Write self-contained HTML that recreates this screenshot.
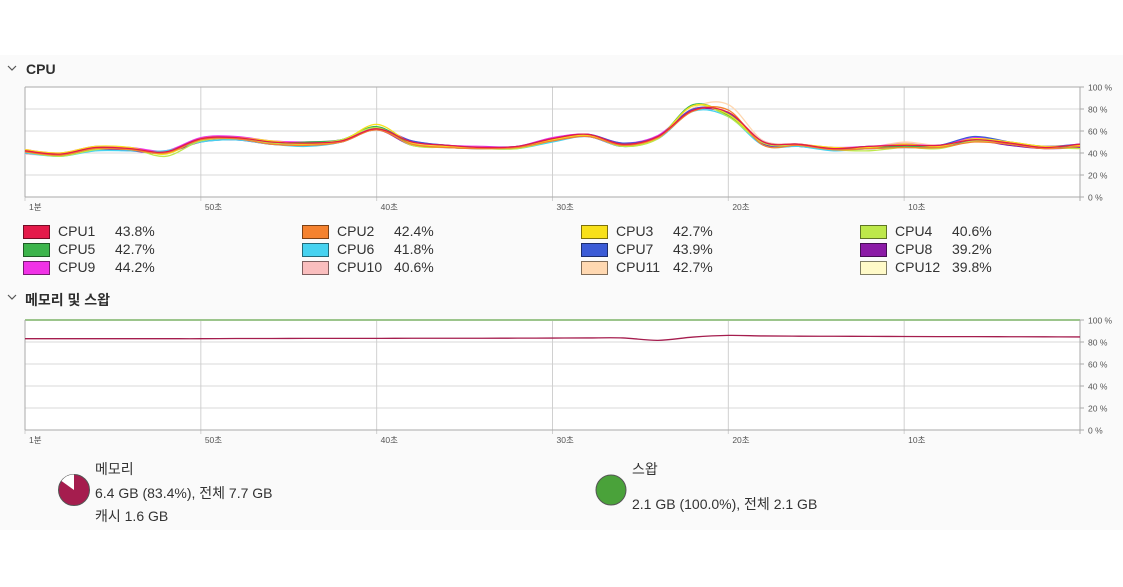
<!DOCTYPE html>
<html><head><meta charset="utf-8">
<style>
body{margin:0;width:1123px;height:587px;background:#fff;font-family:"Liberation Sans","Noto Sans CJK KR",sans-serif;color:#333;overflow:hidden;position:relative}
#panel{position:absolute;left:0;top:55px;width:1123px;height:475px;background:#fafafa}
.t{position:absolute;font-size:14px;white-space:nowrap}
.h{position:absolute;font-size:14px;font-weight:bold;color:#2e2e2e}
.sw{position:absolute;width:27px;height:14px;box-sizing:border-box;border:1px solid rgba(0,0,0,0.5)}
svg{position:absolute;left:0;top:0}
</style></head>
<body>
<div id="panel"></div>
<svg width="1123" height="587">
 <g id="cpu"></g>
 <g id="mem"></g>
 <path d="M8 66 l4 4 l4 -4" fill="none" stroke="#555" stroke-width="1.2"/>
 <path d="M8 295 l4 4 l4 -4" fill="none" stroke="#555" stroke-width="1.2"/>
 <g>
  <circle cx="74" cy="490" r="15.5" fill="#a51d4e" stroke="#555" stroke-width="1"/>
  <path d="M74 490 L74 474.5 A15.5 15.5 0 0 0 61.5 481 Z" fill="#fff"/>
 </g>
 <circle cx="611" cy="490" r="15" fill="#4aa23a" stroke="#555" stroke-width="1"/>
</svg>
<div class="h" style="left:26px;top:61px">CPU</div>
<div class="h" style="left:25px;top:290px">메모리 및 스왑</div>
<div id="legend"></div>
<div class="t" style="left:95px;top:459px">메모리</div>
<div class="t" style="left:95px;top:483px">6.4 GB (83.4%), 전체 7.7 GB</div>
<div class="t" style="left:95px;top:506px">캐시 1.6 GB</div>
<div class="t" style="left:632px;top:459px">스왑</div>
<div class="t" style="left:632px;top:494px">2.1 GB (100.0%), 전체 2.1 GB</div>
<script>
const xTicks=["1분","50초","40초","30초","20초","10초"];
const yTicks=["100 %","80 %","60 %","40 %","20 %","0 %"];
const cpuNames=["CPU1","CPU2","CPU3","CPU4","CPU5","CPU6","CPU7","CPU8","CPU9","CPU10","CPU11","CPU12"];
const cpuPct=["43.8%","42.4%","42.7%","40.6%","42.7%","41.8%","43.9%","39.2%","44.2%","40.6%","42.7%","39.8%"];
const cpuColors=["#e41a4a","#f5822f","#f8e01a","#bde84a","#3cb44b","#46d2f0","#3b5bd6","#8b1aa6","#f032e6","#fabebe","#ffd8b1","#fffac8"];
const cpu1=[42,39,45,44,41,53,54,50,49,51,62,50,47,45,46,53,57,48,55,79,77,50,48,44,46,47,47,52,49,45,48];
const cpu2=[41,38,44,43,40,52,53,48,47,50,61,48,45,44,45,51,55,47,54,78,79,47,47,43,44,45,45,50,48,44,46];
const cpu3=[43,40,46,45,39,53,54,51,48,51,66,49,46,45,45,52,56,47,54,83,75,50,48,45,45,48,46,53,50,46,47];
const cpu4=[41,37,43,44,37,51,53,49,48,52,63,47,45,44,44,51,56,46,53,83,73,49,47,43,42,45,44,51,48,45,44];
const cpu5=[42,38,44,43,40,52,54,49,50,52,64,48,45,44,45,52,56,47,54,84,74,49,47,44,45,46,46,52,48,45,47];
const cpu6=[40,37,42,42,42,50,52,48,46,50,62,48,45,44,44,50,55,46,53,78,73,47,46,42,44,45,45,53,48,45,46];
const cpu7=[42,39,45,43,41,53,54,50,49,51,62,51,47,45,46,53,57,49,55,80,76,50,48,44,46,46,47,55,50,46,48];
const cpu8=[40,38,43,42,40,50,52,48,47,50,61,47,45,44,45,51,55,46,53,79,75,48,46,43,44,45,45,51,47,44,45];
const cpu9=[43,40,46,45,42,54,55,51,50,52,63,51,47,46,46,54,57,49,56,80,76,50,48,45,46,48,47,54,50,46,48];
const cpu10=[39,38,44,43,41,51,53,49,48,51,62,49,46,44,45,52,56,48,54,80,77,51,48,44,45,49,46,52,49,45,47];
const cpu11=[41,39,45,44,41,52,53,49,49,51,62,49,46,45,45,52,56,48,55,81,84,51,48,44,45,50,47,52,49,45,47];
const cpu12=[42,39,44,44,41,52,54,50,48,51,62,49,46,45,46,52,56,48,55,80,77,50,48,44,45,47,46,52,49,45,47];
const cpuSeries=[cpu1,cpu2,cpu3,cpu4,cpu5,cpu6,cpu7,cpu8,cpu9,cpu10,cpu11,cpu12];
const memValues=[83,83,83,83,83,83,83.2,83.2,83.3,83.3,83.3,83.4,83.4,83.4,83.5,83.6,83.7,83.7,81.5,84.5,86,85.5,85.3,85.2,85.1,85,84.9,84.9,84.8,84.7,84.6];
const memColor="#a51d4e";
const NS="http://www.w3.org/2000/svg";
const X0=25,X1=1080;
function mk(tag,attrs,parent){const e=document.createElementNS(NS,tag);for(const k in attrs)e.setAttribute(k,attrs[k]);parent.appendChild(e);return e;}
function xs(i,n){return X0+(X1-X0)*i/(n-1);}
function smooth(pts){let d="M"+pts[0][0]+" "+pts[0][1];for(let i=0;i<pts.length-1;i++){const p0=pts[Math.max(0,i-1)],p1=pts[i],p2=pts[i+1],p3=pts[Math.min(pts.length-1,i+2)];d+=" C"+(p1[0]+(p2[0]-p0[0])/6)+" "+(p1[1]+(p2[1]-p0[1])/6)+" "+(p2[0]-(p3[0]-p1[0])/6)+" "+(p2[1]-(p3[1]-p1[1])/6)+" "+p2[0]+" "+p2[1];}return d;}
function axes(g,top,bot,topColor){
 const ys=v=>bot-(bot-top)*v/100;
 mk("rect",{x:X0,y:top,width:X1-X0,height:bot-top,fill:"#fff"},g);
 yTicks.forEach((t,i)=>{const y=top+(bot-top)*i/5;
  const l=mk("line",{x1:X0,x2:X1,y1:y,y2:y,stroke:"#d8d8d8"},g);
  const tk=mk("text",{x:1088,y:y+3.5,"font-size":"8.5",fill:"#555","font-family":"Liberation Sans, sans-serif"},g);tk.textContent=t;
  
  
  mk("line",{x1:X1,x2:X1+4,y1:y,y2:y,stroke:"#aaa"},g);});
 xTicks.forEach((t,i)=>{const x=X0+(X1-X0)*i/6*1.0;
  const xx=X0+(i*10/60)*(X1-X0);
  mk("line",{x1:xx,x2:xx,y1:top,y2:bot+4,stroke:"#d0d0d0"},g);
  const tk=mk("text",{x:xx+4,y:bot+13,"font-size":"8.5",fill:"#555","font-family":"Liberation Sans, Noto Sans CJK KR, sans-serif"},g);tk.textContent=t;
  
  });
 mk("line",{x1:X0,x2:X1,y1:top,y2:top,stroke:topColor||"#aaa","stroke-width":topColor?2:1},g);
 mk("line",{x1:X0,x2:X1,y1:bot,y2:bot,stroke:"#aaa"},g);
 mk("line",{x1:X0,x2:X0,y1:top,y2:bot,stroke:"#aaa"},g);
 mk("line",{x1:X1,x2:X1,y1:top,y2:bot+4,stroke:"#aaa"},g);
 return ys;
}
const gc=document.getElementById("cpu");
const ysC=axes(gc,87,197);
for(let s=cpuSeries.length-1;s>=0;s--){const v=cpuSeries[s];
 const p=mk("path",{d:smooth(v.map((val,i)=>[xs(i,v.length),ysC(val)])),fill:"none",stroke:cpuColors[s],"stroke-width":1.3},gc);
 
 }
const gm=document.getElementById("mem");
const ysM=axes(gm,320,430,"#9cc58c");
const mp=mk("path",{d:smooth(memValues.map((val,i)=>[xs(i,memValues.length),ysM(val)])),fill:"none",stroke:memColor,"stroke-width":1.3},gm);


const lg=document.getElementById("legend");
const colX=[23,302,581,860],rowY=[225,243,261];
cpuNames.forEach((n,i)=>{const c=i%4,r=Math.floor(i/4);
 const sw=document.createElement("div");sw.className="sw";sw.style.left=colX[c]+"px";sw.style.top=rowY[r]+"px";sw.style.background=cpuColors[i];
 
 
 lg.appendChild(sw);
 const t=document.createElement("div");t.className="t";t.style.left=(colX[c]+35)+"px";t.style.top=(rowY[r]-2)+"px";t.textContent=n;
 
 
 lg.appendChild(t);
 const p=document.createElement("div");p.className="t";p.style.left=(colX[c]+92)+"px";p.style.top=(rowY[r]-2)+"px";p.textContent=cpuPct[i];
 
 
 lg.appendChild(p);});
</script>
</body></html>
